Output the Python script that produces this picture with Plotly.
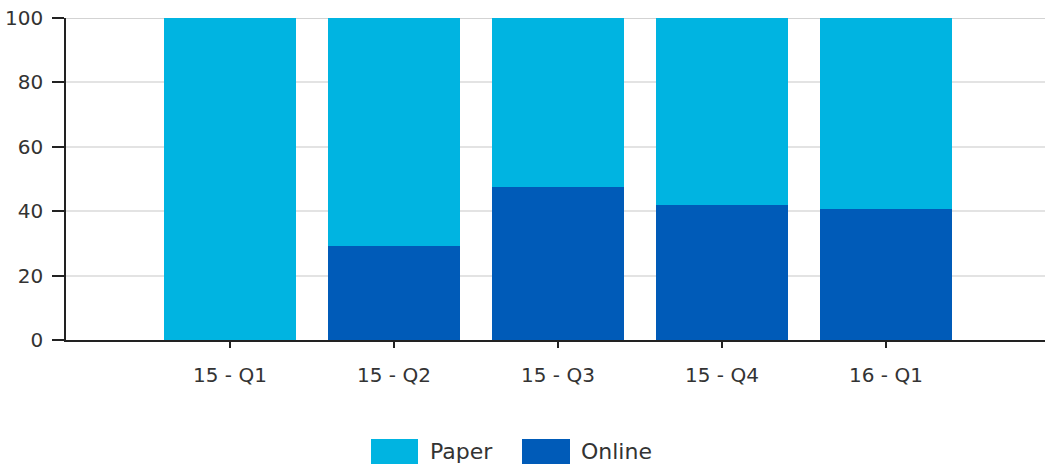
import plotly.graph_objects as go

categories = ["15 - Q1", "15 - Q2", "15 - Q3", "15 - Q4", "16 - Q1"]
online = [0, 29.3, 47.6, 41.9, 40.7]
paper = [100, 70.7, 52.4, 58.1, 59.3]
series_names = ["Paper", "Online"]
colors = {"Paper": "#00b4e1", "Online": "#005bb8"}
y_ticks = [0, 20, 40, 60, 80, 100]

FONT = "DejaVu Sans"

fig = go.Figure()
fig.add_trace(go.Bar(x=list(range(len(categories))), y=online, name="Online",
                     marker=dict(color=colors["Online"], line=dict(width=0)), showlegend=False))
fig.add_trace(go.Bar(x=list(range(len(categories))), y=paper, name="Paper",
                     marker=dict(color=colors["Paper"], line=dict(width=0)), showlegend=False))

fig.update_layout(
    barmode="stack",
    bargap=0.2,
    width=1045, height=467,
    margin=dict(l=66, r=0, t=18, b=127),
    paper_bgcolor="white", plot_bgcolor="white",
    font=dict(family=FONT, color="#333333"),
    xaxis=dict(
        range=[-1, 4.97],
        tickmode="array", tickvals=list(range(len(categories))), ticktext=categories,
        showgrid=False, zeroline=False,
        showline=True, linecolor="#222222", linewidth=1.5,
        ticks="outside", ticklen=6, tickcolor="#222222", tickwidth=1.5,
        tickfont=dict(family=FONT, size=20, color="#333333"),
        ticklabelstandoff=10,
    ),
    yaxis=dict(
        range=[0, 100],
        tickmode="array", tickvals=y_ticks,
        showgrid=True, gridcolor="#e3e3e3", gridwidth=1.5,
        zeroline=False,
        showline=True, linecolor="#222222", linewidth=1.5,
        ticks="outside", ticklen=12, tickcolor="#222222", tickwidth=1.5,
        tickfont=dict(family=FONT, size=20, color="#333333"),
        ticklabelstandoff=5,
        ticklabeloverflow="allow",
    ),
)

# top gridline darker
fig.add_shape(type="line", xref="paper", yref="y", x0=0, x1=1, y0=100, y1=100,
              line=dict(color="#c4c4c4", width=1.5), layer="below")

# custom legend (positions in page pixels converted to paper fractions)
legend_items = [("Paper", 371, 418, 428), ("Online", 522, 570, 579)]
for name, sx0, sx1, tx in legend_items:
    fig.add_shape(type="rect", xref="paper", yref="paper",
                  x0=(sx0 - 66) / 979, x1=(sx1 - 66) / 979,
                  y0=(340 - 464) / 322, y1=(340 - 439) / 322,
                  fillcolor=colors[name], line=dict(width=0))
    fig.add_annotation(xref="paper", yref="paper", x=(tx - 66) / 979, y=(340 - 451.5) / 322,
                       text=name, showarrow=False, xanchor="left", yanchor="middle",
                       font=dict(family=FONT, size=22, color="#333333"))

fig.write_html("out.html",
               config={"displayModeBar": False},
               post_script="document.body.style.margin='0';document.body.style.overflow='hidden';")
